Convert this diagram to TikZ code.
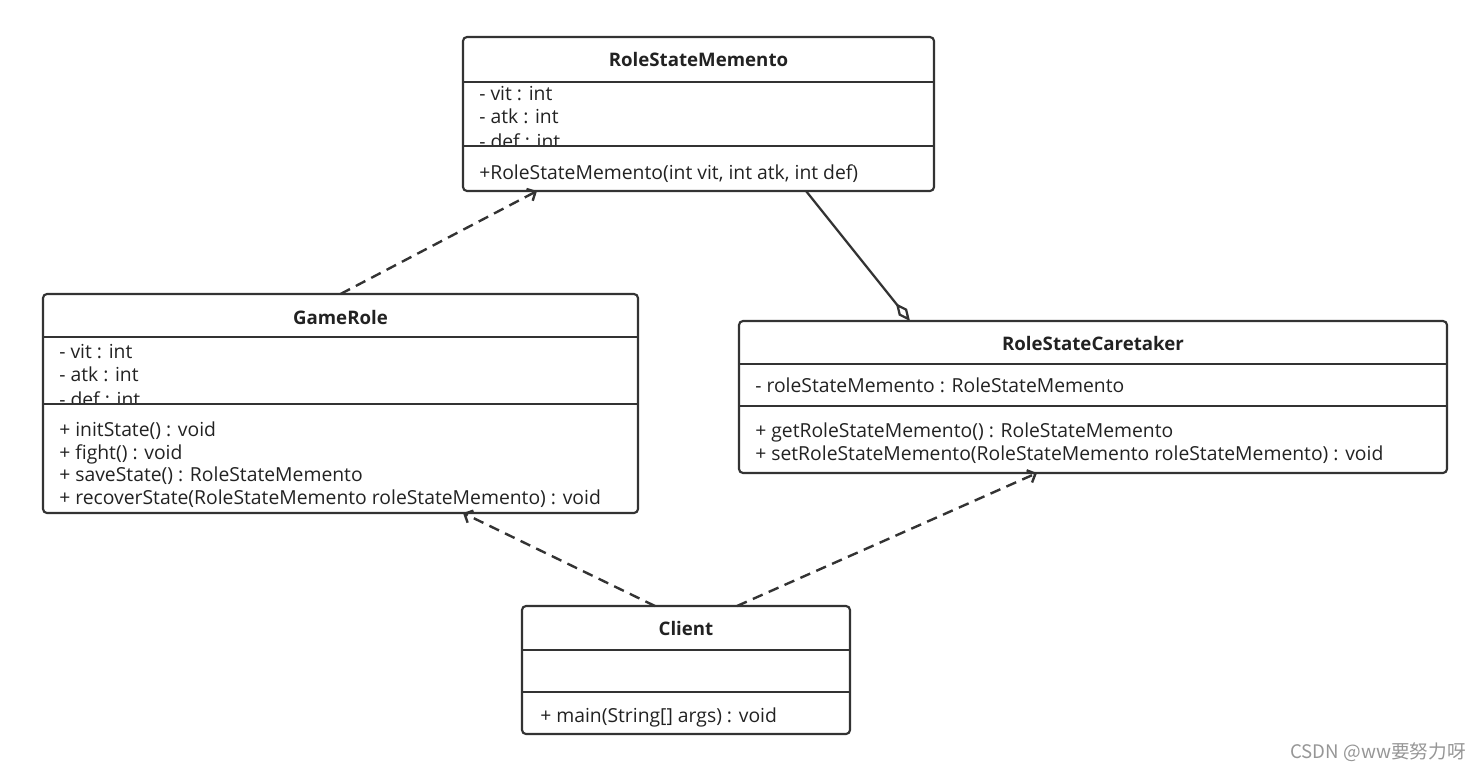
\documentclass[tikz,border=0pt]{standalone}
\usepackage{fontspec}
\setmainfont{Open Sans}
\newfontfamily\cjk{Noto Sans CJK SC}
\usetikzlibrary{arrows.meta,calc}

\definecolor{umlline}{RGB}{51,51,51}
\definecolor{umltext}{RGB}{34,34,34}
\definecolor{markgray}{RGB}{150,150,150}

\tikzset{
  classbox/.style={draw=umlline, line width=1.6pt, rounded corners=3pt, inner sep=0pt, outer sep=0pt},
  sepline/.style={draw=umlline, line width=1.5pt},
  classname/.style={font=\fontsize{14}{16}\selectfont\bfseries, text=umltext, anchor=base, inner sep=0pt},
  member/.style={font=\fontsize{14.5}{16}\selectfont, text=umltext, anchor=base west, inner sep=0pt},
  depend/.style={draw=umlline, line width=1.8pt, dash pattern=on 8pt off 5pt, -{Straight Barb[length=5pt,width=10pt]}},
  aggreg/.style={draw=umlline, line width=1.7pt, -{Diamond[open,length=17pt,width=8pt]}},
}

\begin{document}
\begin{tikzpicture}[x=0.75pt,y=0.75pt,yscale=-1,xscale=1]
\useasboundingbox (0,0) rectangle (1481,772);

%Class: RoleStateMemento
\node[classbox, minimum width=353.25pt, minimum height=115.5pt] (memento) at (698.5,114) {};
\node[classname] (mementoname) at (698.5,66) {RoleStateMemento};
\draw[sepline] (463,82) -- (934,82);
\node[member] (mementovit) at (479,100) {- vit : int};
\node[member] (mementoatk) at (479,123) {- atk : int};
\node[member] (mementodef) at (479,148) {- def : int};
\fill[white] (465,146) rectangle (932,160);
\draw[sepline] (463,146) -- (934,146);
\node[member] (mementoctor) at (479,179) {+RoleStateMemento(int vit, int atk, int def)};

%Class: GameRole
\node[classbox, minimum width=446.25pt, minimum height=164.25pt] (gamerole) at (340.5,403.5) {};
\node[classname] (gamerolename) at (340.5,324) {GameRole};
\draw[sepline] (43,337) -- (638,337);
\node[member] (gamerolevit) at (59,358) {- vit : int};
\node[member] (gameroleatk) at (59,381) {- atk : int};
\node[member] (gameroledef) at (59,406) {- def : int};
\fill[white] (45,404) rectangle (636,416);
\draw[sepline] (43,404) -- (638,404);
\node[member] (gameroleinit) at (59,436) {+ initState() : void};
\node[member] (gamerolefight) at (59,459) {+ fight() : void};
\node[member] (gamerolesave) at (59,481) {+ saveState() : RoleStateMemento};
\node[member] (gamerolerecover) at (59,504) {+ recoverState(RoleStateMemento roleStateMemento) : void};

%Class: RoleStateCaretaker
\node[classbox, minimum width=531pt, minimum height=114pt] (caretaker) at (1093,397) {};
\node[classname] (caretakername) at (1093,350) {RoleStateCaretaker};
\draw[sepline] (739,364) -- (1447,364);
\node[member] (caretakerfield) at (755,392) {- roleStateMemento : RoleStateMemento};
\draw[sepline] (739,406) -- (1447,406);
\node[member] (caretakerget) at (755,437) {+ getRoleStateMemento() : RoleStateMemento};
\node[member] (caretakerset) at (755,460) {+ setRoleStateMemento(RoleStateMemento roleStateMemento) : void};

%Class: Client
\node[classbox, minimum width=246pt, minimum height=96pt] (client) at (686,670) {};
\node[classname] (clientname) at (686,635) {Client};
\draw[sepline] (522,650) -- (850,650);
\draw[sepline] (522,692) -- (850,692);
\node[member] (clientmain) at (540,722) {+ main(String[] args) : void};

%Dependencies and aggregation
\draw[depend] (gamerole.north) -- ($(memento.south west)+(74,0)$);
\draw[aggreg] ($(memento.south west)+(343,0)$) -- ($(caretaker.north west)+(171,0)$);
\draw[depend] ($(client.north west)+(133,0)$) -- ($(gamerole.south west)+(420,0)$);
\draw[depend] ($(client.north west)+(215,0)$) -- ($(caretaker.south west)+(298,0)$);

%Watermark
\node[anchor=east, inner sep=0pt, text=markgray, font=\cjk\fontsize{14}{16}\selectfont] (mark) at (1466,752) {CSDN @ww要努力呀};

\end{tikzpicture}
\end{document}
